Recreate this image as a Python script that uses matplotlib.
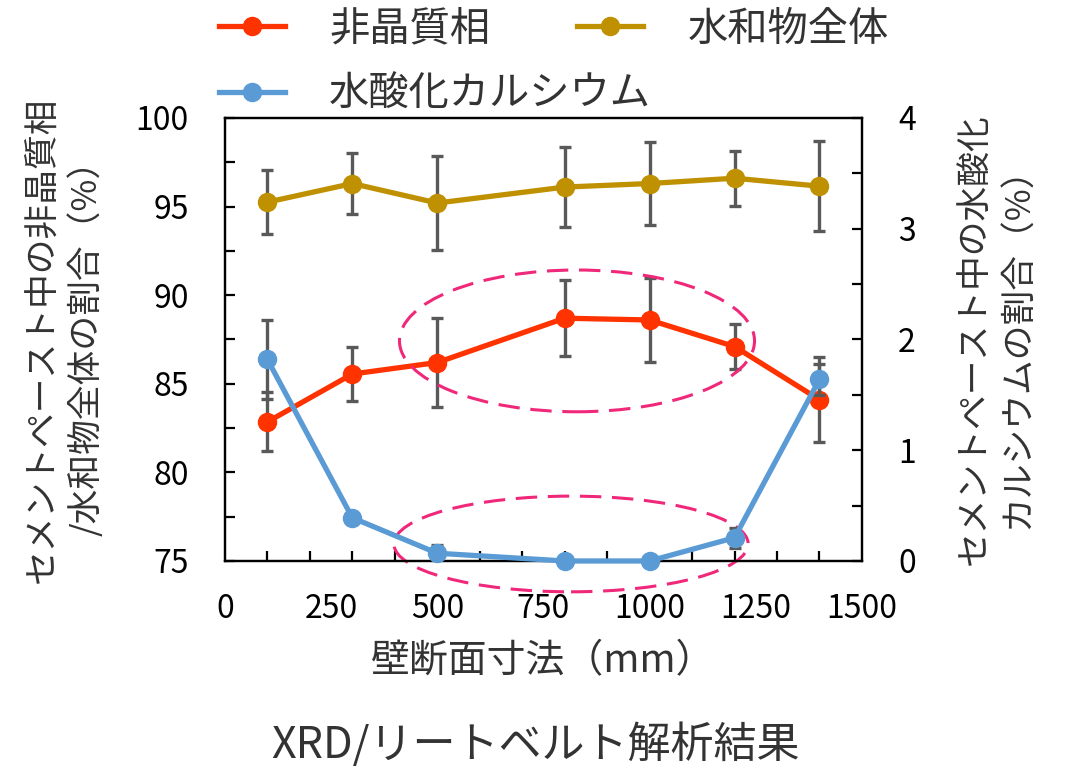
import matplotlib
matplotlib.use("Agg")
import matplotlib.pyplot as plt
from matplotlib.patches import Ellipse
from matplotlib.ticker import MultipleLocator, FixedLocator

plt.rcParams["font.family"] = ["Noto Sans CJK JP", "DejaVu Sans"]

# Wall section size (mm)
size_mm = [100, 300, 500, 800, 1000, 1200, 1400]

# Amorphous phase share in cement paste (%)
amorphous = [82.85, 85.55, 86.2, 88.7, 88.6, 87.1, 84.1]
amorphous_err = [1.67, 1.5, 2.5, 2.15, 2.35, 1.27, 2.4]

# Total hydrates share (%)
hydrate = [95.25, 96.3, 95.2, 96.1, 96.3, 96.6, 96.15]
hydrate_err = [1.8, 1.7, 2.65, 2.25, 2.35, 1.55, 2.55]

# Calcium hydroxide share (%), right axis
portlandite = [1.82, 0.39, 0.07, 0.0, 0.0, 0.21, 1.64]
portlandite_err = [0.355, 0.0, 0.07, 0.0, 0.0, 0.09, 0.14]

x_ticks = [0, 250, 500, 750, 1000, 1250, 1500]
left_ticks = [75, 80, 85, 90, 95, 100]
right_ticks = [0, 1, 2, 3, 4]

RED = "#ff3300"
GOLD = "#bf9000"
BLUE = "#5b9bd5"
ERR = "#595959"
PINK = "#f0287a"
TXT = "#333333"

fig = plt.figure(figsize=(10.66, 7.71), dpi=100)
ax = fig.add_axes([0.211, 0.2724, 0.5976, 0.5746])
ax2 = ax.twinx()

line_kw = dict(lw=3.8, marker="o", ms=13, clip_on=False, zorder=3)
err_kw = dict(fmt="none", ecolor=ERR, elinewidth=2.4, capsize=4.5, capthick=2.4, zorder=2)

ax.errorbar(size_mm, hydrate, yerr=hydrate_err, **err_kw)
ax.errorbar(size_mm, amorphous, yerr=amorphous_err, **err_kw)
l_amo, = ax.plot(size_mm, amorphous, color=RED, label="非晶質相", **line_kw)
l_hyd, = ax.plot(size_mm, hydrate, color=GOLD, label="水和物全体", **line_kw)

ch_x = [x for x, e in zip(size_mm, portlandite_err) if e > 0]
ch_y = [y for y, e in zip(portlandite, portlandite_err) if e > 0]
ch_e = [e for e in portlandite_err if e > 0]
ax2.errorbar(ch_x, ch_y, yerr=ch_e, **err_kw)
l_ch, = ax2.plot(size_mm, portlandite, color=BLUE, label="水酸化カルシウム", **line_kw)

# Highlight regions
ax.add_patch(Ellipse((829, 87.42), 836, 8.0, fill=False, ec=PINK, lw=2.2,
                     ls=(0, (7, 3.5)), zorder=4))
ax.add_patch(Ellipse((815, 75.96), 834, 5.4, fill=False, ec=PINK, lw=2.2,
                     ls=(0, (7, 3.5)), zorder=4, clip_on=False))

ax.set_xlim(0, 1500)
ax.set_ylim(75, 100)
ax2.set_ylim(0, 4)

ax.xaxis.set_major_locator(FixedLocator(x_ticks))
ax.xaxis.set_minor_locator(MultipleLocator(100))
ax.yaxis.set_major_locator(FixedLocator(left_ticks))
ax.yaxis.set_minor_locator(MultipleLocator(2.5))
ax2.yaxis.set_major_locator(FixedLocator(right_ticks))
ax2.yaxis.set_minor_locator(MultipleLocator(0.5))

ax.tick_params(axis="x", which="major", length=0, pad=23, labelsize=23)
ax.tick_params(axis="x", which="minor", direction="in", length=7, width=1.6)
ax.tick_params(axis="y", which="both", direction="in", length=7, width=1.6,
               pad=26, labelsize=23)
ax2.tick_params(axis="y", which="both", direction="in", length=7, width=1.6,
                pad=26, labelsize=23)

for a in (ax, ax2):
    for s in a.spines.values():
        s.set_linewidth(1.6)
        s.set_color("black")

ax.set_xlabel("壁断面寸法（mm）", fontsize=28, color=TXT, labelpad=12)
ax.set_ylabel("セメントペースト中の非晶質相\n/水和物全体の割合（%）", fontsize=25,
              color=TXT, linespacing=1.3, labelpad=22)
ax2.set_ylabel("セメントペースト中の水酸化\nカルシウムの割合（%）", fontsize=25,
               color=TXT, linespacing=1.3, rotation=90, labelpad=30)

fig.text(0.502, 0.033, "XRD/リートベルト解析結果", fontsize=31, color=TXT,
         ha="center", va="center")

leg_kw = dict(frameon=False, fontsize=29, handlelength=1.65, handletextpad=1.1,
              labelcolor=TXT, loc="upper left", borderaxespad=0, borderpad=0,
              labelspacing=0.6)
fig.legend(handles=[l_amo, l_ch], bbox_to_anchor=(0.205, 0.989), **leg_kw)
fig.legend(handles=[l_hyd], bbox_to_anchor=(0.541, 0.989), **leg_kw)

fig.savefig("out.png", dpi=100)
